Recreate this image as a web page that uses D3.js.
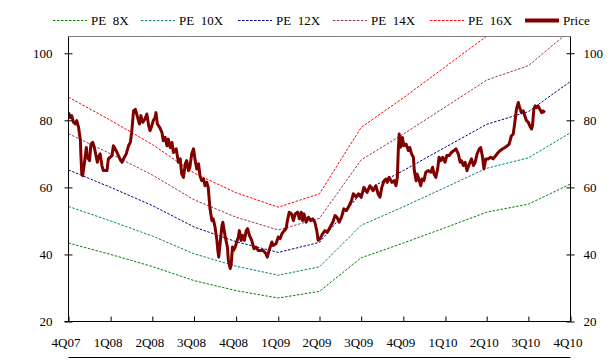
<!DOCTYPE html>
<html>
<head>
<meta charset="utf-8">
<script src="https://cdn.jsdelivr.net/npm/d3@7"></script>
<style>
  body { margin: 0; background: #fff; }
  svg text { font-family: "Liberation Serif", "Times New Roman", serif; fill: #000; }
</style>
</head>
<body>
<svg id="chart" width="615" height="364"></svg>
<script>
// quarter labels and the quarter start dates they sit on
const quarterLabels = ["4Q07", "1Q08", "2Q08", "3Q08", "4Q08", "1Q09", "2Q09", "3Q09", "4Q09", "1Q10", "2Q10", "3Q10", "4Q10"];
const quarterDates = ["2007-10-01", "2008-01-01", "2008-04-01", "2008-07-01", "2008-10-01", "2009-01-01", "2009-04-01",
                      "2009-07-01", "2009-10-01", "2010-01-01", "2010-04-01", "2010-07-01", "2010-10-01"];

// PE band values at each quarter
const pe8x  = [43.4, 40.0, 36.4, 32.2, 29.2, 27.0, 29.0, 39.0, 43.4, 48.0, 52.6, 55.0, 61.0];
const pe10x = [54.3, 50.0, 45.5, 40.2, 36.5, 33.8, 36.3, 48.7, 54.2, 60.0, 65.7, 68.8, 76.3];
const pe12x = [65.2, 60.0, 54.6, 48.2, 43.8, 40.6, 43.6, 58.4, 65.0, 72.0, 78.8, 82.6, 91.6];
const pe14x = [76.0, 70.0, 63.7, 56.3, 51.1, 47.3, 50.8, 68.2, 75.9, 84.0, 92.0, 96.3, 106.8];
const pe16x = [86.9, 80.0, 72.8, 64.3, 58.4, 54.1, 58.1, 77.9, 86.7, 96.0, 105.1, 110.1, 122.1];

// price: [days after 1 Oct 2007, price]
const priceStart = "2007-10-01";
const price = [
  [0,82.3],[4,80.8],[7,81.4],[11,79.4],[15,78.9],[18,79.9],[22,77.9],[26,73.9],[27,70.0],[29,64.0],[31,63.5],
  [35,67.5],[39,71.9],[41,69.0],[46,68.0],[49,72.9],[53,73.4],[57,71.5],[60,69.5],[63,67.5],[65,69.0],[69,70.0],
  [73,66.5],[76,65.0],[84,65.0],[87,68.5],[95,69.5],[98,72.4],[102,71.5],[106,70.4],[109,69.5],[114,68.0],[117,67.5],
  [122,69.0],[126,70.0],[131,72.4],[135,73.4],[138,76.4],[142,82.8],[146,83.3],[151,80.8],[155,78.9],[158,81.4],
  [162,79.4],[167,80.4],[171,81.9],[175,78.4],[178,76.9],[182,78.4],[185,79.9],[189,80.8],[191,82.3],[194,78.9],
  [199,77.9],[204,76.4],[207,73.9],[211,74.9],[215,72.4],[218,74.4],[222,71.9],[226,73.4],[229,70.4],[235,71.5],
  [240,67.5],[244,68.5],[247,64.0],[251,63.0],[255,67.0],[258,68.0],[262,65.0],[265,66.0],[269,70.0],[273,71.5],
  [276,68.5],[280,65.5],[284,67.0],[287,63.5],[291,62.0],[295,62.5],[298,60.5],[302,61.5],[305,60.0],[309,53.6],
  [313,50.1],[316,50.6],[320,48.1],[324,44.2],[326,41.2],[328,39.2],[331,43.2],[335,48.6],[337,49.6],[340,47.1],
  [343,44.7],[347,42.2],[349,38.2],[353,35.8],[355,36.7],[358,42.2],[360,41.2],[364,42.2],[367,43.7],[371,45.2],
  [373,47.1],[377,44.2],[380,45.7],[384,44.2],[388,47.1],[391,47.7],[395,45.7],[400,44.2],[405,41.7],[409,42.2],
  [414,41.2],[420,41.2],[425,41.2],[431,40.2],[434,39.2],[438,41.2],[444,43.7],[447,42.7],[453,43.2],[458,45.2],
  [462,44.7],[466,46.2],[471,47.1],[475,47.7],[478,50.1],[482,52.6],[487,52.1],[491,50.1],[495,52.1],[500,52.6],
  [504,50.6],[508,52.6],[511,50.1],[514,52.1],[519,49.6],[524,51.1],[529,50.1],[533,50.6],[538,49.6],[542,47.1],
  [545,44.2],[549,44.7],[555,46.2],[560,47.1],[565,46.6],[571,48.1],[577,49.6],[582,51.6],[586,51.1],[591,49.6],
  [596,51.1],[601,53.6],[607,53.1],[613,54.6],[618,56.1],[622,58.1],[628,57.1],[633,58.1],[639,57.0],[645,60.0],
  [652,58.5],[658,60.5],[665,59.0],[671,60.5],[676,58.0],[680,57.1],[684,60.0],[689,62.0],[693,62.5],[696,61.5],
  [700,63.0],[706,61.5],[711,62.0],[715,60.5],[718,63.0],[720,71.0],[722,75.9],[725,72.0],[729,74.9],[732,72.4],
  [737,72.9],[742,71.0],[745,71.9],[749,70.0],[753,69.0],[755,65.0],[759,62.0],[761,64.0],[765,62.5],[769,60.5],
  [772,62.5],[776,62.0],[780,64.5],[785,65.0],[791,64.5],[795,66.0],[798,64.0],[802,63.0],[806,65.5],[809,69.0],
  [813,68.0],[817,69.0],[822,67.5],[826,69.5],[831,69.5],[836,70.4],[841,70.9],[846,71.5],[851,70.0],[855,67.5],
  [858,68.0],[862,66.5],[866,67.5],[870,65.0],[875,67.0],[880,68.5],[884,66.5],[888,67.5],[892,70.0],[897,71.5],
  [900,71.9],[904,69.0],[907,65.5],[911,68.5],[916,68.5],[922,69.0],[927,68.5],[933,69.5],[938,70.4],[942,70.9],
  [948,71.5],[953,71.9],[958,72.4],[962,72.9],[967,75.4],[971,75.9],[975,79.9],[978,83.3],[982,85.3],[985,83.8],
  [989,82.3],[993,82.8],[996,81.4],[1000,79.9],[1004,79.4],[1007,78.4],[1011,77.4],[1013,78.4],[1016,83.3],
  [1019,84.3],[1022,83.8],[1025,84.3],[1029,83.3],[1033,82.3],[1036,82.8],[1040,82.3]
];

const yTicks = [20, 40, 60, 80, 100];

const bands = [
  { name: "PE  8X",  values: pe8x,  color: "#008000" },
  { name: "PE  10X", values: pe10x, color: "#008080" },
  { name: "PE  12X", values: pe12x, color: "#000080" },
  { name: "PE  14X", values: pe14x, color: "#993366" },
  { name: "PE  16X", values: pe16x, color: "#ff0000" }
];
const priceColor = "#800000";

const svg = d3.select("#chart");
const area = { left: 68.5, right: 570.5, top: 36.5, bottom: 321.5 };

const parse = d3.timeParse("%Y-%m-%d");
const qDates = quarterDates.map(parse);
const start = parse(priceStart);

const x = d3.scaleTime().domain([qDates[0], qDates[qDates.length - 1]]).range([area.left, area.right]);
const y = d3.scaleLinear().domain([20, 105]).range([area.bottom, area.top]);

svg.append("clipPath").attr("id", "plot")
  .append("rect").attr("x", area.left).attr("y", area.top)
  .attr("width", area.right - area.left).attr("height", area.bottom - area.top);

// top border of the plot area
svg.append("line")
  .attr("x1", area.left).attr("x2", area.right).attr("y1", area.top).attr("y2", area.top)
  .attr("stroke", "#808080");

// PE bands
const bandLine = d3.line().x((d, i) => x(qDates[i])).y(d => y(d));
const plot = svg.append("g").attr("clip-path", "url(#plot)");
plot.selectAll("path.band")
  .data(bands)
  .join("path")
    .attr("class", "band")
    .attr("fill", "none")
    .attr("stroke", d => d.color)
    .attr("stroke-width", 1)
    .attr("stroke-dasharray", "2.5,1.5")
    .attr("d", d => bandLine(d.values));

// price line
const priceLine = d3.line()
  .x(d => x(d3.timeDay.offset(start, d[0])))
  .y(d => y(d[1]));
plot.append("path")
  .datum(price)
  .attr("fill", "none")
  .attr("stroke", priceColor)
  .attr("stroke-width", 3)
  .attr("stroke-linejoin", "round")
  .attr("d", priceLine);

// axes
const fontSize = "13px";
const yLeft = svg.append("g")
  .attr("transform", `translate(${area.left},0)`)
  .call(d3.axisLeft(y).tickValues(yTicks).tickSize(4).tickPadding(12).tickSizeOuter(0));
yLeft.selectAll(".tick line").attr("x1", 4);

const yRight = svg.append("g")
  .attr("transform", `translate(${area.right},0)`)
  .call(d3.axisRight(y).tickValues(yTicks).tickSize(4).tickPadding(9).tickSizeOuter(0));
yRight.selectAll(".tick line").attr("x1", -4);

const xAxis = svg.append("g")
  .attr("transform", `translate(0,${area.bottom})`)
  .call(d3.axisBottom(x).tickValues(qDates).tickSize(-5).tickPadding(16).tickSizeOuter(0)
    .tickFormat((d, i) => quarterLabels[i]));
xAxis.selectAll(".tick text").attr("dx", -3);
xAxis.select(".domain").attr("d", `M${area.left - 4},0H${area.right}`);

[yLeft, yRight, xAxis].forEach(g => {
  g.selectAll("text").style("font-size", fontSize).style("font-family", '"Liberation Serif", "Times New Roman", serif');
  g.selectAll("line, path").attr("stroke", "#000");
});
yLeft.select(".domain").attr("d", `M0,${area.top}V${area.bottom}`);
yRight.select(".domain").attr("d", `M0,${area.top}V${area.bottom}`);

// line under the quarter labels
svg.append("line")
  .attr("x1", area.left).attr("x2", area.right).attr("y1", 357.5).attr("y2", 357.5)
  .attr("stroke", "#000");

// legend
const legendItems = bands.map(b => ({ name: b.name, color: b.color, dash: "2.5,1.5", width: 1 }))
  .concat([{ name: "Price", color: priceColor, dash: null, width: 4 }]);
const legendX = [53, 141, 238, 333, 430, 525];
const legend = svg.append("g");
legendItems.forEach((d, i) => {
  const g = legend.append("g").attr("transform", `translate(${legendX[i]},20)`);
  g.append("line")
    .attr("x1", 0).attr("x2", 34).attr("y1", 0.5).attr("y2", 0.5)
    .attr("stroke", d.color).attr("stroke-width", d.width)
    .attr("stroke-dasharray", d.dash);
  g.append("text")
    .attr("x", 38).attr("y", 4.5)
    .style("font-size", fontSize)
    .style("white-space", "pre")
    .text(d.name);
});
</script>
</body>
</html>
